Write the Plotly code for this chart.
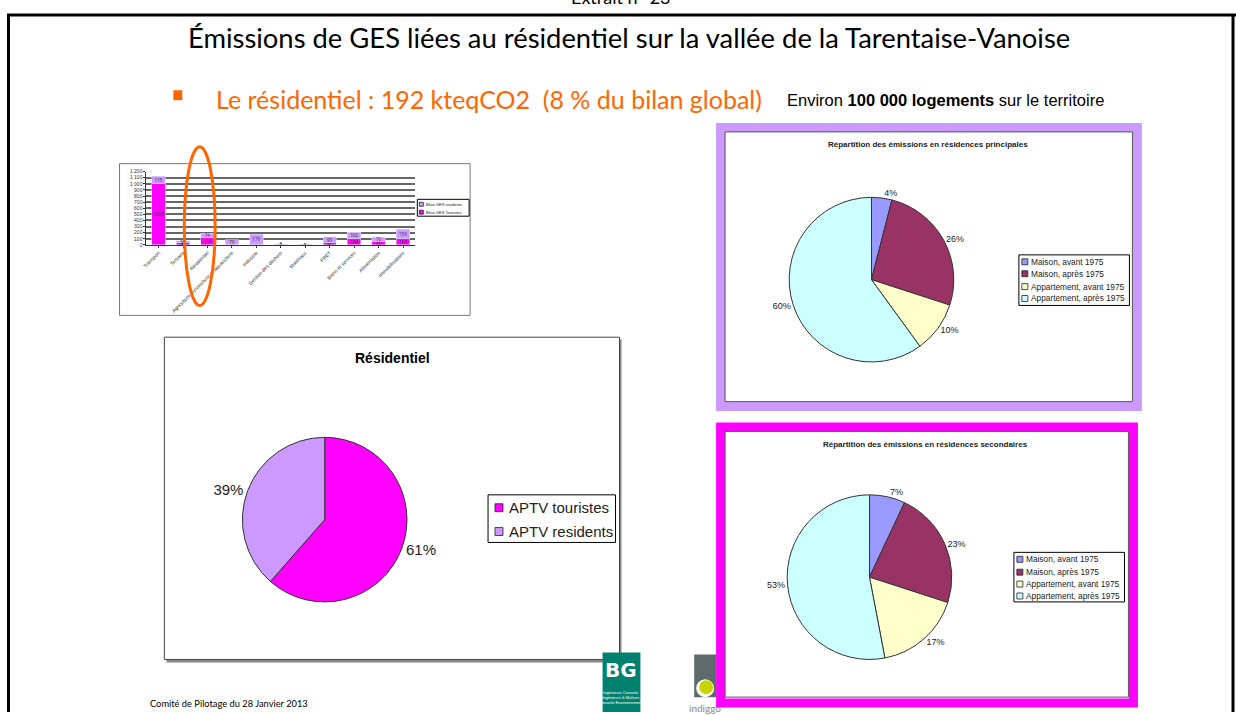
import plotly.graph_objects as go

W, H = 1236, 715

# ---------------- data ----------------
bar_categories = ["Transport", "Tertiaire", "Résidentiel",
                  "Agriculture, sylviculture et aquaculture", "Industrie",
                  "Gestion des déchets", "Matériaux", "FRET", "Biens et services",
                  "Alimentation", "Immobilisations"]
bar_touristes = [1009, 40, 118, 10, 0, 5, 3, 40, 104, 60, 100]
bar_residents = [115, 30, 74, 79, 179, 8, 5, 93, 102, 70, 156]
bar_series = ["Bilan GES residents", "Bilan GES Touristes"]
bar_ytickvals = [0, 100, 200, 300, 400, 500, 600, 700, 800, 900, 1000, 1100, 1200]
bar_yticktext = ["0", "100", "200", "300", "400", "500", "600", "700", "800",
                 "900", "1 000", "1 100", "1 200"]

res_labels = ["APTV touristes", "APTV residents"]
res_values = [118, 74]
res_colors = ["#FF00FF", "#CC99FF"]

log_labels = ["Maison, avant 1975", "Maison, après 1975",
              "Appartement, avant 1975", "Appartement, après 1975"]
log_colors = ["#9999FF", "#993366", "#FFFFCC", "#CCFFFF"]
principales_values = [4, 26, 10, 60]
secondaires_values = [7, 23, 17, 53]

ARIAL = "Liberation Sans, Arial, sans-serif"


def px(x):
    return x / W


def py(y):
    return 1 - y / H


fig = go.Figure()

# ---------------- small bar chart ----------------
fig.add_trace(go.Bar(
    x=bar_categories, y=bar_touristes, name=bar_series[1],
    marker=dict(color="#FF00FF"), text=[str(v) for v in bar_touristes],
    textposition="inside", textangle=0, constraintext="none",
    textfont=dict(size=4.5, color="#333"),
    insidetextanchor="middle", xaxis="x", yaxis="y", width=0.55, showlegend=False))
fig.add_trace(go.Bar(
    x=bar_categories, y=bar_residents, name=bar_series[0],
    marker=dict(color="#CC99FF"), text=[str(v) for v in bar_residents],
    textposition="inside", textangle=0, constraintext="none",
    textfont=dict(size=4.5, color="#333"),
    insidetextanchor="middle", xaxis="x", yaxis="y", width=0.55, showlegend=False))

# ---------------- pies ----------------
fig.add_trace(go.Pie(
    labels=res_labels, values=res_values, sort=False, direction="clockwise",
    rotation=0, marker=dict(colors=res_colors, line=dict(color="#333333", width=1)),
    texttemplate="%{percent:.0%}", textposition="outside",
    textfont=dict(family=ARIAL, size=15, color="#222"),
    domain=dict(x=[px(238), px(404)], y=[py(604), py(438)]),
    showlegend=False, hoverinfo="label+percent"))

fig.add_trace(go.Pie(
    labels=log_labels, values=principales_values, sort=False, direction="clockwise",
    rotation=0, marker=dict(colors=log_colors, line=dict(color="#333333", width=1)),
    texttemplate="%{percent:.0%}", textposition="outside",
    textfont=dict(family=ARIAL, size=9, color="#222"),
    domain=dict(x=[px(787), px(953)], y=[py(362), py(196)]),
    showlegend=False, hoverinfo="label+percent"))

fig.add_trace(go.Pie(
    labels=log_labels, values=secondaires_values, sort=False, direction="clockwise",
    rotation=0, marker=dict(colors=log_colors, line=dict(color="#333333", width=1)),
    texttemplate="%{percent:.0%}", textposition="outside",
    textfont=dict(family=ARIAL, size=9, color="#222"),
    domain=dict(x=[px(785), px(951)], y=[py(662), py(496)]),
    showlegend=False, hoverinfo="label+percent"))

# ---------------- shapes (frames, decorations) ----------------
shapes = []
ann = []


def rect(x0, y0, x1, y1, **kw):
    d = dict(type="rect", xref="paper", yref="paper", x0=px(x0), x1=px(x1),
             y0=py(y1), y1=py(y0))
    d.update(kw)
    shapes.append(d)


def text(t, x, y, size, family=ARIAL, color="black", xanchor="left", yanchor="middle"):
    ann.append(dict(text=t, x=px(x), y=py(y), xanchor=xanchor, yanchor=yanchor,
                    xref="paper", yref="paper", showarrow=False,
                    font=dict(family=family, size=size, color=color)))


def legend_box(labels, colors, box, ys, msize, mx, tx, fsize):
    x0, y0, x1, y1 = box
    rect(x0, y0, x1, y1, line=dict(color="black", width=1), fillcolor="white")
    for lab, col, yc in zip(labels, colors, ys):
        rect(mx, yc - msize / 2, mx + msize, yc + msize / 2,
             line=dict(color="#222", width=0.8), fillcolor=col)
        text(lab, tx, yc, fsize, color="#222")


# document frame
shapes.append(dict(type="line", xref="paper", yref="paper", x0=px(2), x1=px(1236),
                   y0=py(12), y1=py(12), line=dict(color="black", width=3)))
shapes.append(dict(type="line", xref="paper", yref="paper", x0=px(3.5), x1=px(3.5),
                   y0=py(12), y1=py(715), line=dict(color="black", width=3)))
shapes.append(dict(type="line", xref="paper", yref="paper", x0=px(1233), x1=px(1233),
                   y0=py(12), y1=py(715), line=dict(color="black", width=3)))
# bar chart frame
rect(115, 162, 467, 315, line=dict(color="#777", width=1), fillcolor="white", layer="below")
# residential frame (shadow + frame)
rect(162, 339, 619, 665, line=dict(width=0), fillcolor="#888", layer="below")
rect(160, 337, 617, 662, line=dict(color="#444", width=1), fillcolor="white", layer="below")
# principales frame
rect(718.5, 125.5, 1137, 407, line=dict(color="#CC99FF", width=9), fillcolor="white",
     layer="below")
rect(723, 130, 1132, 402, line=dict(color="#555", width=1), fillcolor="rgba(0,0,0,0)",
     layer="below")
# secondaires frame
rect(718.5, 427.5, 1133, 706, line=dict(color="#FF00FF", width=9), fillcolor="white",
     layer="below")
rect(723, 432, 1128, 700, line=dict(color="#555", width=1), fillcolor="rgba(0,0,0,0)",
     layer="below")
# orange bullet square
rect(169, 88, 178, 98, line=dict(width=0), fillcolor="#FF6600")
# orange ellipse highlighting Résidentiel
shapes.append(dict(type="circle", xref="paper", yref="paper", x0=px(180), x1=px(211),
                   y0=py(305), y1=py(145), line=dict(color="#FF6600", width=3)))
# BG logo
rect(600, 655, 638, 715, line=dict(width=0), fillcolor="#00806E")
# indiggo logo
rect(692, 657, 714, 700, line=dict(width=0), fillcolor="#5E6B6A")
shapes.append(dict(type="circle", xref="paper", yref="paper", x0=px(694), x1=px(712),
                   y0=py(700), y1=py(682), line=dict(width=0), fillcolor="white"))
shapes.append(dict(type="circle", xref="paper", yref="paper", x0=px(697), x1=px(711),
                   y0=py(697), y1=py(683), line=dict(width=0), fillcolor="#C8D400"))

# ---------------- legends (drawn from the label / colour lists) ----------------
legend_box(bar_series, ["#CC99FF", "#FF00FF"], (414, 198, 466, 215), [203, 211],
           4, 416, 421, 4)
legend_box(res_labels, res_colors, (485, 496, 613, 544), [509, 533], 8, 492, 504, 15)
legend_box(log_labels, log_colors, (1018, 254, 1129, 305), [261, 273, 286, 298],
           6, 1021, 1028, 8.3)
legend_box(log_labels, log_colors, (1013, 554, 1124, 604), [561, 574, 586, 598],
           6, 1016, 1023, 8.3)

# ---------------- texts ----------------
text("Extrait n° 23", 618, 7, 18, family="Lato, sans-serif", xanchor="center",
     yanchor="bottom")
text("Émissions de GES liées au résidentiel sur la vallée de la Tarentaise-Vanoise",
     627, 35, 27.4, family="Lato, sans-serif", xanchor="center")
text("Le résidentiel : 192 kteqCO2  (8 % du bilan global)", 210, 97, 25,
     family="Lato, sans-serif", color="#FF6600")
text("Environ <b>100 000 logements</b> sur le territoire", 783, 98, 16.5)
text("<b>Résidentiel</b>", 389, 358, 14, xanchor="center")
text("<b>Répartition des émissions en résidences principales</b>", 927, 143, 8,
     color="#222", xanchor="center")
text("<b>Répartition des émissions en résidences secondaires</b>", 924, 445, 8,
     color="#222", xanchor="center")
text("Comité de Pilotage du 28 Janvier 2013", 144, 706, 9.3, family="Lato, sans-serif")
text("<b>BG</b>", 619, 673, 20, family="DejaVu Sans, sans-serif", color="white",
     xanchor="center")
text("Ingénieurs Conseils<br>Ingénieurs & Maîtres<br>Conseils Environnement", 619, 700, 4,
     color="white", xanchor="center")
text("indiggo", 703, 711, 10, family="Lato, sans-serif", color="#888", xanchor="center")

fig.update_layout(
    width=W, height=H, margin=dict(l=0, r=0, t=0, b=0),
    paper_bgcolor="white", plot_bgcolor="white",
    barmode="stack", showlegend=False,
    xaxis=dict(domain=[px(142), px(412)], anchor="y", tickangle=-45,
               tickfont=dict(size=5, color="#333", family=ARIAL),
               showline=True, linecolor="#333", linewidth=1, ticks="outside",
               ticklen=2, tickcolor="#333", showgrid=False, fixedrange=True),
    yaxis=dict(domain=[py(244), py(170)], anchor="x", range=[0, 1200],
               tickvals=bar_ytickvals, ticktext=bar_yticktext,
               tickfont=dict(size=5, color="#333", family=ARIAL),
               showline=True, linecolor="#333", linewidth=1,
               gridcolor="#666", gridwidth=1.5, ticks="outside", ticklen=2,
               tickcolor="#333", fixedrange=True),
    shapes=shapes, annotations=ann,
)

fig.write_html("out.html", config={"displayModeBar": False},
               post_script="document.body.style.margin='0';")
